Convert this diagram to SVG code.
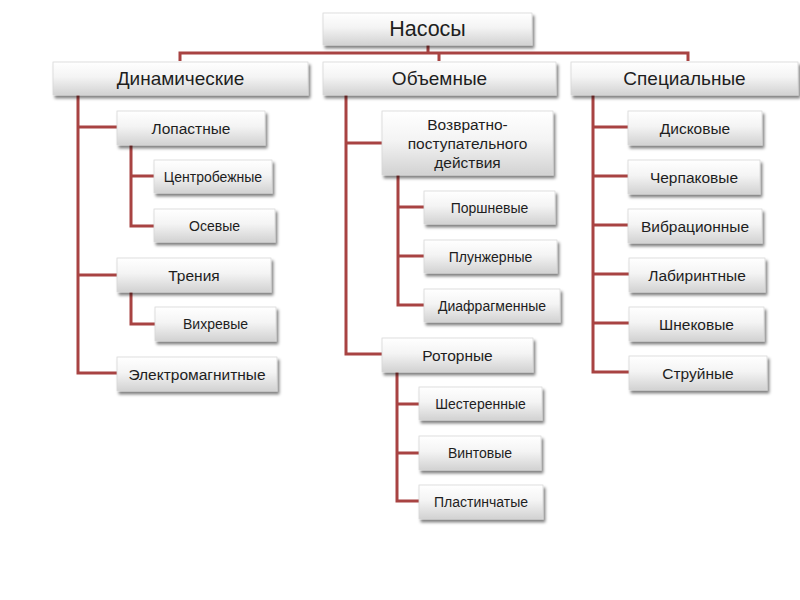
<svg xmlns="http://www.w3.org/2000/svg" width="800" height="600" viewBox="0 0 800 600">
<defs>
<linearGradient id="g" x1="0" y1="0" x2="0" y2="1">
<stop offset="0" stop-color="#ffffff"/>
<stop offset="0.45" stop-color="#f4f4f4"/>
<stop offset="1" stop-color="#d2d2d2"/>
</linearGradient>
<filter id="sh" x="-10%" y="-20%" width="130%" height="160%">
<feGaussianBlur in="SourceAlpha" stdDeviation="1.4"/>
<feOffset dx="2" dy="2.5" result="o"/>
<feComponentTransfer><feFuncA type="linear" slope="0.5"/></feComponentTransfer>
<feMerge><feMergeNode/><feMergeNode in="SourceGraphic"/></feMerge>
</filter>
</defs>
<style>
rect{fill:url(#g);stroke:#d8d8d8;stroke-width:0.8;filter:url(#sh)}
text{font-family:"Liberation Sans","DejaVu Sans",sans-serif;fill:#1e1e1e;text-anchor:middle;dominant-baseline:central}
.t0{font-size:21.5px}
.t1{font-size:19px}
.t2{font-size:15.5px}
.t3{font-size:14px}
#connectors path{fill:none;stroke:#a84342;stroke-width:3}
</style>
<rect width="800" height="600" style="fill:#fff;stroke:none;filter:none"/>
<g id="connectors">
<path d="M428 45V53M180 61V53H688V61M439 53V61"/>
<path d="M78 95V373H117M78 127H117M78 275H117"/>
<path d="M131 144V226H154M131 176H154"/>
<path d="M131 292V324H155"/>
<path d="M346 95V354H382M346 143H382"/>
<path d="M398 175V305H424M398 207H424M398 256H424"/>
<path d="M397 372V501H419M397 404H419M397 453H419"/>
<path d="M593 95V372H629M593 127H628M593 176H628M593 225H628M593 274H629M593 323H629"/>
</g>
<g id="n-nasosy"><rect x="323" y="13" width="209" height="32"/><text class="t0" x="427.5" y="29">Насосы</text></g>
<g id="n-dinam"><rect x="53" y="62" width="255" height="33"/><text class="t1" x="180.5" y="78.5">Динамические</text></g>
<g id="n-obem"><rect x="323" y="62" width="233" height="33"/><text class="t1" x="439.5" y="78.5">Объемные</text></g>
<g id="n-spec"><rect x="571" y="62" width="227" height="33"/><text class="t1" x="684.5" y="78.5">Специальные</text></g>
<g id="n-lopast"><rect x="117" y="111" width="148" height="34"/><text class="t2" x="191" y="128">Лопастные</text></g>
<g id="n-centr"><rect x="154" y="160" width="118" height="33"/><text class="t3" x="213" y="176.5">Центробежные</text></g>
<g id="n-osev"><rect x="154" y="209" width="121" height="33"/><text class="t3" x="214.5" y="225.5">Осевые</text></g>
<g id="n-tren"><rect x="117" y="258" width="154" height="34"/><text class="t2" x="194" y="275">Трения</text></g>
<g id="n-vihr"><rect x="155" y="307" width="121" height="34"/><text class="t3" x="215.5" y="324">Вихревые</text></g>
<g id="n-elektro"><rect x="117" y="357" width="160" height="34"/><text class="t2" x="197" y="374">Электромагнитные</text></g>
<g id="n-vozvr"><rect x="382" y="111" width="171" height="64"/><text class="t2" x="467.5" y="124">Возвратно-</text><text class="t2" x="467.5" y="143">поступательного</text><text class="t2" x="467.5" y="162">действия</text></g>
<g id="n-porsh"><rect x="424" y="191" width="131" height="33"/><text class="t3" x="489.5" y="207.5">Поршневые</text></g>
<g id="n-plunzh"><rect x="424" y="240" width="133" height="33"/><text class="t3" x="490.5" y="256.5">Плунжерные</text></g>
<g id="n-diafr"><rect x="424" y="289" width="136" height="33"/><text class="t3" x="492" y="305.5">Диафрагменные</text></g>
<g id="n-rotor"><rect x="382" y="338" width="151" height="34"/><text class="t2" x="457.5" y="355">Роторные</text></g>
<g id="n-shest"><rect x="419" y="387" width="123" height="33"/><text class="t3" x="480.5" y="403.5">Шестеренные</text></g>
<g id="n-vint"><rect x="419" y="436" width="122" height="34"/><text class="t3" x="480" y="453">Винтовые</text></g>
<g id="n-plast"><rect x="419" y="485" width="124" height="34"/><text class="t3" x="481" y="502">Пластинчатые</text></g>
<g id="n-disk"><rect x="628" y="111" width="134" height="34"/><text class="t2" x="695" y="128">Дисковые</text></g>
<g id="n-cherp"><rect x="628" y="160" width="132" height="34"/><text class="t2" x="694" y="177">Черпаковые</text></g>
<g id="n-vibr"><rect x="628" y="209" width="134" height="34"/><text class="t2" x="695" y="226">Вибрационные</text></g>
<g id="n-labir"><rect x="629" y="258" width="136" height="34"/><text class="t2" x="697" y="275">Лабиринтные</text></g>
<g id="n-shnek"><rect x="629" y="307" width="135" height="34"/><text class="t2" x="696.5" y="324">Шнековые</text></g>
<g id="n-strui"><rect x="629" y="356" width="138" height="34"/><text class="t2" x="698" y="373">Струйные</text></g>
</svg>
